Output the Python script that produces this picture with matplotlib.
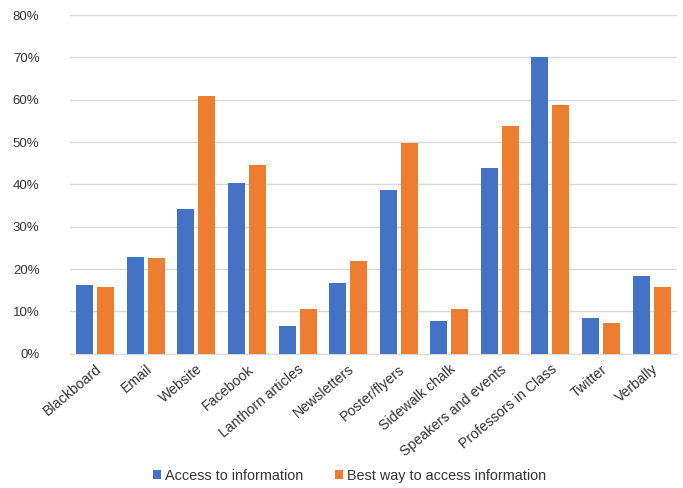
import numpy as np
import matplotlib
matplotlib.use("Agg")
import matplotlib.pyplot as plt
from matplotlib.ticker import PercentFormatter

plt.rcParams["font.family"] = ["Liberation Sans", "DejaVu Sans"]

categories = ["Blackboard", "Email", "Website", "Facebook", "Lanthorn articles",
              "Newsletters", "Poster/flyers", "Sidewalk chalk", "Speakers and events",
              "Professors in Class", "Twitter", "Verbally"]
access = [16.3, 22.9, 34.2, 40.3, 6.6, 16.8, 38.7, 7.8, 43.9, 70.1, 8.4, 18.4]
best_way = [15.8, 22.6, 60.8, 44.6, 10.6, 21.9, 49.8, 10.6, 53.7, 58.7, 7.3, 15.8]
series_names = ["Access to information", "Best way to access information"]

BLUE, ORANGE = "#4472C4", "#ED7D31"
TXT = "#333333"

fig = plt.figure(figsize=(6.83, 4.88), dpi=100)
ax = fig.add_axes([0.1025, 0.275, 0.8885, 0.694])

x = np.arange(len(categories))
w = 0.335
ax.bar(x - w / 2 - 0.04, access, w, color=BLUE, label=series_names[0], zorder=3)
ax.bar(x + w / 2 + 0.04, best_way, w, color=ORANGE, label=series_names[1], zorder=3)

ax.set_xlim(-0.5, len(categories) - 0.5)
ax.set_ylim(0, 80)
ax.set_yticks(np.arange(0, 81, 10))
ax.yaxis.set_major_formatter(PercentFormatter(decimals=0))
ax.grid(axis="y", color="#D9D9D9", lw=1, zorder=0)
for s in ["top", "right", "left"]:
    ax.spines[s].set_visible(False)
ax.spines["bottom"].set_color("#D9D9D9")
ax.tick_params(axis="y", length=0, pad=22, labelsize=9.5, labelcolor=TXT)
ax.tick_params(axis="x", length=0, pad=6, labelsize=10.2, labelcolor=TXT)
ax.set_xticks(x)
ax.set_xticklabels(categories, rotation=40, ha="right", va="top", rotation_mode="anchor")

fig.legend(*ax.get_legend_handles_labels(), loc="center", bbox_to_anchor=(0.512, 0.025),
           ncol=2, frameon=False, fontsize=10.4, handlelength=0.55, handleheight=0.55,
           handletextpad=0.3, columnspacing=2.2, labelcolor=TXT)

fig.savefig("out.png", dpi=100)
